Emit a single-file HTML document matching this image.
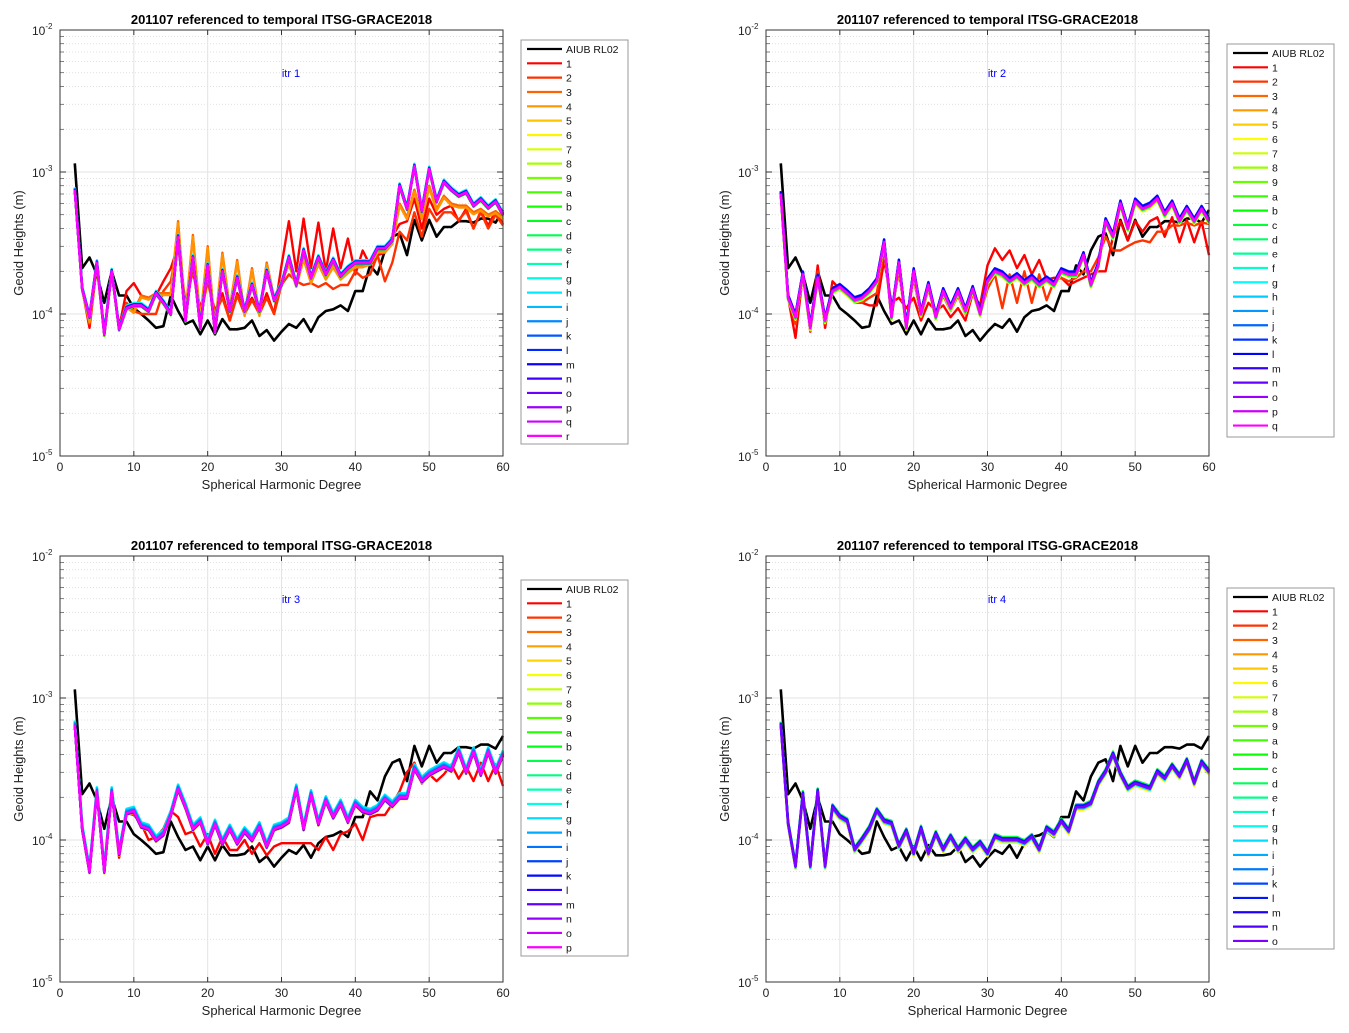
<!DOCTYPE html>
<html><head><meta charset="utf-8">
<style>
html,body{margin:0;padding:0;background:#fff;}
svg{display:block;font-family:"Liberation Sans",Arial,sans-serif;}
</style></head>
<body>
<svg id="fig" width="1349" height="1033" viewBox="0 0 1349 1033" xmlns="http://www.w3.org/2000/svg"></svg>
<script>
const degrees = [];
for (let d = 2; d <= 60; d++) degrees.push(d);
const xTicks = [0,10,20,30,40,50,60];
const yTickExps = [-2,-3,-4,-5];

const aiub = [1.15e-3,2.1e-4,2.5e-4,1.9e-4,1.2e-4,2.0e-4,1.35e-4,1.35e-4,1.1e-4,1.0e-4,9e-5,8e-5,8.2e-5,1.35e-4,1.05e-4,8.5e-5,9e-5,7.2e-5,9e-5,7.2e-5,9.2e-5,7.8e-5,7.8e-5,8e-5,9e-5,7e-5,7.7e-5,6.5e-5,7.5e-5,8.5e-5,8e-5,9.2e-5,7.5e-5,9.5e-5,1.05e-4,1.08e-4,1.15e-4,1.05e-4,1.45e-4,1.45e-4,2.2e-4,1.9e-4,2.8e-4,3.5e-4,3.7e-4,2.6e-4,4.6e-4,3.3e-4,4.6e-4,3.5e-4,4.1e-4,4.1e-4,4.5e-4,4.5e-4,4.4e-4,4.7e-4,4.7e-4,4.4e-4,5.4e-4];

const p1Cluster = [7.5e-4,1.5e-4,9.5e-5,2.3e-4,7.2e-5,2.0e-4,7.8e-5,1.1e-4,1.15e-4,1.15e-4,1.05e-4,1.4e-4,1.2e-4,1.0e-4,3.5e-4,9e-5,2.5e-4,8e-5,2.2e-4,7.5e-5,2.0e-4,1.05e-4,1.8e-4,1.05e-4,1.6e-4,1.05e-4,2.0e-4,1.25e-4,1.6e-4,2.5e-4,1.6e-4,2.8e-4,1.8e-4,2.5e-4,1.9e-4,2.4e-4,1.85e-4,2.1e-4,2.3e-4,2.3e-4,2.3e-4,2.9e-4,2.9e-4,3.3e-4,8e-4,5.5e-4,1.1e-3,5.3e-4,1.05e-3,6.2e-4,8.5e-4,7.5e-4,6.8e-4,7.2e-4,5.8e-4,6.4e-4,5.6e-4,6.2e-4,5e-4];
const p1Red1 = [7.5e-4,1.5e-4,8e-5,2.2e-4,7.2e-5,2e-4,8e-5,1.45e-4,1.65e-4,1.35e-4,1.3e-4,1.35e-4,1.7e-4,2.1e-4,3e-4,1.2e-4,2e-4,1.1e-4,1.7e-4,1.05e-4,1.4e-4,9e-5,1.4e-4,1.1e-4,1.3e-4,1e-4,1.4e-4,1e-4,2.2e-4,4.5e-4,2e-4,4.7e-4,2.1e-4,4.4e-4,2e-4,4e-4,2.1e-4,3.4e-4,1.9e-4,2.8e-4,2.2e-4,2.6e-4,2.7e-4,3.5e-4,4.3e-4,4.5e-4,6.5e-4,4e-4,6.5e-4,5e-4,5.5e-4,5.8e-4,4.5e-4,5.5e-4,4e-4,5.3e-4,4.2e-4,5.3e-4,4.3e-4];
const p1Red2 = [7.5e-4,1.5e-4,8.5e-5,2.2e-4,7.2e-5,2e-4,8e-5,1.2e-4,1.05e-4,1e-4,1e-4,1e-4,1.45e-4,1.7e-4,3.2e-4,1.1e-4,2.1e-4,9.5e-5,1.7e-4,1e-4,1.3e-4,9e-5,1.35e-4,1e-4,1.25e-4,1e-4,1.3e-4,1e-4,1.6e-4,1.9e-4,1.7e-4,1.6e-4,1.65e-4,1.55e-4,1.65e-4,1.5e-4,1.6e-4,1.6e-4,2e-4,1.8e-4,1.9e-4,2.6e-4,1.7e-4,2.3e-4,3.8e-4,3.3e-4,5.2e-4,3.5e-4,5.5e-4,4.5e-4,5.2e-4,5.2e-4,4.6e-4,5.3e-4,4e-4,5.2e-4,4e-4,5e-4,4.2e-4];
const p1Orange = [7.5e-4,1.5e-4,9e-5,2.3e-4,7.2e-5,2e-4,8e-5,1.15e-4,1.05e-4,1.35e-4,1.3e-4,1.4e-4,1.4e-4,1.4e-4,4.5e-4,1e-4,3.6e-4,9e-5,3e-4,8e-5,2.7e-4,1.1e-4,2.4e-4,1e-4,2.1e-4,1e-4,2.3e-4,1.3e-4,1.7e-4,2.3e-4,1.6e-4,2.5e-4,1.7e-4,2.3e-4,1.8e-4,2.2e-4,1.8e-4,2e-4,2.2e-4,2.2e-4,2.3e-4,2.8e-4,2.8e-4,3.2e-4,6e-4,4.8e-4,7.5e-4,4.8e-4,8e-4,5.5e-4,6.8e-4,6e-4,5.8e-4,5.8e-4,5.2e-4,5.5e-4,5e-4,5.3e-4,4.8e-4];

const p2Cluster = [7e-4,1.3e-4,9.5e-5,1.9e-4,8e-5,1.8e-4,9e-5,1.45e-4,1.55e-4,1.4e-4,1.25e-4,1.3e-4,1.45e-4,1.7e-4,3.2e-4,9.5e-5,2.3e-4,8e-5,2e-4,1e-4,1.6e-4,9.5e-5,1.45e-4,1.1e-4,1.45e-4,1.05e-4,1.5e-4,1e-4,1.7e-4,2e-4,1.9e-4,1.7e-4,1.85e-4,1.65e-4,1.8e-4,1.6e-4,1.75e-4,1.6e-4,2e-4,1.9e-4,1.9e-4,2.6e-4,1.6e-4,2.2e-4,4.5e-4,3.5e-4,6e-4,4e-4,6.2e-4,5.5e-4,5.8e-4,6.5e-4,5e-4,6e-4,4.5e-4,5.5e-4,4.5e-4,5.5e-4,4.5e-4];
const p2Red1 = [7e-4,1.3e-4,6.8e-5,1.9e-4,7.5e-5,2.2e-4,8e-5,1.7e-4,1.5e-4,1.45e-4,1.2e-4,1.2e-4,1.15e-4,1.15e-4,2.4e-4,1.2e-4,1.3e-4,1.1e-4,1.3e-4,9e-5,1.2e-4,1.05e-4,1.15e-4,9.5e-5,1.1e-4,9e-5,1.4e-4,1.15e-4,2.2e-4,2.9e-4,2.4e-4,2.8e-4,2.1e-4,2.6e-4,1.9e-4,2.4e-4,1.75e-4,1.8e-4,1.8e-4,1.6e-4,1.7e-4,1.8e-4,1.9e-4,2e-4,2e-4,3.5e-4,4.5e-4,3.3e-4,4.5e-4,3.8e-4,4.5e-4,4.8e-4,3.5e-4,4.8e-4,3.2e-4,4.6e-4,3.2e-4,4.5e-4,2.6e-4];
const p2Red2 = [7e-4,1.3e-4,8.5e-5,1.9e-4,8e-5,2e-4,8.5e-5,1.55e-4,1.5e-4,1.4e-4,1.2e-4,1.2e-4,1.3e-4,1.4e-4,2.8e-4,1e-4,2e-4,8.5e-5,1.8e-4,9.5e-5,1.5e-4,9.5e-5,1.35e-4,1.05e-4,1.35e-4,1e-4,1.4e-4,1e-4,1.5e-4,1.9e-4,1.1e-4,1.9e-4,1.2e-4,2e-4,1.2e-4,1.9e-4,1.25e-4,1.7e-4,1.8e-4,1.7e-4,1.8e-4,2e-4,2e-4,2.5e-4,3.5e-4,2.8e-4,2.8e-4,3e-4,3.2e-4,3.3e-4,3.2e-4,3.8e-4,3.8e-4,4.2e-4,4.2e-4,4.4e-4,4.2e-4,4.4e-4,4.3e-4];

const p3Cluster = [6.5e-4,1.2e-4,6e-5,2.2e-4,6e-5,2.2e-4,8e-5,1.55e-4,1.6e-4,1.25e-4,1.2e-4,1e-4,1.1e-4,1.5e-4,2.3e-4,1.7e-4,1.2e-4,1.35e-4,9.5e-5,1.3e-4,9.5e-5,1.2e-4,9.5e-5,1.15e-4,1e-4,1.25e-4,9e-5,1.2e-4,1.25e-4,1.35e-4,2.3e-4,1.2e-4,2.1e-4,1.3e-4,1.9e-4,1.45e-4,1.8e-4,1.35e-4,1.8e-4,1.6e-4,1.55e-4,1.65e-4,1.95e-4,1.75e-4,2e-4,2e-4,3.2e-4,2.6e-4,2.9e-4,3.1e-4,3.3e-4,3.1e-4,4.2e-4,3e-4,4.2e-4,2.9e-4,4.2e-4,3e-4,4e-4,2.8e-4];
const p3Red1 = [6.5e-4,1.2e-4,6.5e-5,2.2e-4,6.5e-5,2.2e-4,7.5e-5,1.55e-4,1.5e-4,1.3e-4,1e-4,1.05e-4,1.2e-4,1.6e-4,1.45e-4,1.1e-4,1.15e-4,9e-5,1.1e-4,8e-5,1.05e-4,8.5e-5,8.5e-5,1e-4,8e-5,9.5e-5,7.8e-5,9e-5,9.5e-5,9.5e-5,9.5e-5,9.5e-5,9.5e-5,8.5e-5,1.05e-4,8.5e-5,1.1e-4,1.15e-4,1.3e-4,1e-4,1.45e-4,1.5e-4,1.5e-4,1.8e-4,2.2e-4,3e-4,3.5e-4,2.5e-4,2.9e-4,2.6e-4,2.9e-4,3.4e-4,2.7e-4,3.3e-4,2.6e-4,3.5e-4,2.6e-4,3.4e-4,2.4e-4];

const p4Cluster = [6.5e-4,1.3e-4,6.5e-5,2.1e-4,6.5e-5,2.2e-4,6.5e-5,1.7e-4,1.45e-4,1.35e-4,8.5e-5,1e-4,1.2e-4,1.6e-4,1.35e-4,1.3e-4,9e-5,1.15e-4,8e-5,1.2e-4,8e-5,1.1e-4,8.5e-5,1.05e-4,8.5e-5,1e-4,8.5e-5,9.5e-5,8e-5,1.05e-4,1e-4,1e-4,1e-4,9.5e-5,1.05e-4,8.5e-5,1.2e-4,1.1e-4,1.35e-4,1.15e-4,1.7e-4,1.7e-4,1.8e-4,2.5e-4,3e-4,4e-4,2.9e-4,2.3e-4,2.5e-4,2.4e-4,2.3e-4,3e-4,2.7e-4,3.3e-4,2.8e-4,3.6e-4,2.5e-4,3.5e-4,3e-4];

// legend labels
const labels1 = ["1","2","3","4","5","6","7","8","9","a","b","c","d","e","f","g","h","i","j","k","l","m","n","o","p","q","r"];
// per-entry base series index and multiplicative variation (read as small spread within cluster)
const p1Base = [1,2,3,3,0,0,0,0,0,0,0,0,0,0,0,0,0,0,0,0,0,0,0,0,0,0,0];
const p1Spread = [1,1,1,0.97,1.02,0.98,1.01,0.99,1.03,1.02,1,0.98,1.01,1.03,1.02,1.04,1.03,1.02,1.01,1,1.02,1.01,1,0.99,1,1,1];
const p2Base = [1,2,0,0,0,0,0,0,0,0,0,0,0,0,0,0,0,0,0,0,0,0,0,0,0,0];
const p2Spread = [1,1,1.02,0.98,0.97,0.96,0.97,0.98,1.04,1.03,1,0.98,1.02,1.03,1.04,1.02,1.01,1,1.03,1.05,1.04,1.02,1.01,1,1,1];
const p3Base = [1,0,0,0,0,0,0,0,0,0,0,0,0,0,0,0,0,0,0,0,0,0,0,0,0];
const p3Spread = [1,1.02,0.98,1,0.97,1.01,1.04,1.05,1.06,1.04,1.02,1,0.99,1.03,1.07,1.06,1.04,1.02,1,0.99,0.98,1,0.99,1,1];
const p4Base = [0,0,0,0,0,0,0,0,0,0,0,0,0,0,0,0,0,0,0,0,0,0,0,0];
const p4Spread = [0.98,1,0.97,1.03,0.99,0.96,1.02,1.04,1.01,1.03,1.05,1.02,1,1.04,1.02,1.03,0.98,1,1.01,1.02,1.03,1,1.01,1];

const panels = [
  {x0:60,y0:30,itr:"itr 1",n:27,series:[p1Cluster,p1Red1,p1Red2,p1Orange],base:p1Base,spread:p1Spread,leg:[521,40,107,404],hueMax:300},
  {x0:766,y0:30,itr:"itr 2",n:26,series:[p2Cluster,p2Red1,p2Red2],base:p2Base,spread:p2Spread,leg:[1227,44,107,393],hueMax:300},
  {x0:60,y0:556,itr:"itr 3",n:25,series:[p3Cluster,p3Red1],base:p3Base,spread:p3Spread,leg:[521,580,107,376],hueMax:300},
  {x0:766,y0:556,itr:"itr 4",n:24,series:[p4Cluster],base:p4Base,spread:p4Spread,leg:[1227,588,107,361],hueMax:270}
];
const W = 443, H = 426;
const NS = "http://www.w3.org/2000/svg";
const svg = document.getElementById('fig');
function mk(tag, attrs, parent){const e=document.createElementNS(NS,tag);for(const k in attrs)e.setAttribute(k,attrs[k]);(parent||svg).appendChild(e);return e;}
function hsv(h){const c=1,x=c*(1-Math.abs((h/60)%2-1));let r,g,b;
 if(h<60){r=c;g=x;b=0}else if(h<120){r=x;g=c;b=0}else if(h<180){r=0;g=c;b=x}else if(h<240){r=0;g=x;b=c}else if(h<300){r=x;g=0;b=c}else{r=c;g=0;b=x}
 return `rgb(${Math.round(r*255)},${Math.round(g*255)},${Math.round(b*255)})`;}

panels.forEach((p,pi)=>{
  const g = mk('g',{});
  
  
  const xs = d => p.x0 + d/60*W;
  const ys = v => p.y0 + (-2 - Math.log10(v))/3*H;
  mk('rect',{x:p.x0,y:p.y0,width:W,height:H,fill:'#fff'},g);
  // minor grid
  for(let e=-5;e<-2;e++){for(let m=2;m<=9;m++){const y=ys(m*Math.pow(10,e));
    const l=mk('line',{x1:p.x0,x2:p.x0+W,y1:y,y2:y,stroke:'#d8d8d8','stroke-width':0.7,'stroke-dasharray':'1,2'},g);
    
    mk('line',{x1:p.x0,x2:p.x0+4,y1:y,y2:y,stroke:'#333','stroke-width':0.6},g);
    mk('line',{x1:p.x0+W-4,x2:p.x0+W,y1:y,y2:y,stroke:'#333','stroke-width':0.6},g);}}
  xTicks.forEach(t=>{const x=xs(t);
    const l=mk('line',{x1:x,x2:x,y1:p.y0,y2:p.y0+H,stroke:'#e3e3e3','stroke-width':1},g);
    
    mk('line',{x1:x,x2:x,y1:p.y0+H,y2:p.y0+H-5,stroke:'#333'},g);
    mk('line',{x1:x,x2:x,y1:p.y0,y2:p.y0+5,stroke:'#333'},g);
    const tx=mk('text',{x:x,y:p.y0+H+15,'font-size':12,'text-anchor':'middle',fill:'#222'},g);tx.textContent=t;
    });
  yTickExps.forEach(e=>{const y=ys(Math.pow(10,e));
    const l=mk('line',{x1:p.x0,x2:p.x0+W,y1:y,y2:y,stroke:'#e3e3e3','stroke-width':1},g);
    
    mk('line',{x1:p.x0,x2:p.x0+6,y1:y,y2:y,stroke:'#333'},g);
    mk('line',{x1:p.x0+W-6,x2:p.x0+W,y1:y,y2:y,stroke:'#333'},g);
    const tx=mk('text',{x:p.x0-28,y:y+5,'font-size':12,fill:'#222'},g);
    
    tx.textContent='10';const sp=mk('tspan',{dy:-6,'font-size':8},tx);sp.textContent=String(e);});
  // series
  const pl = (arr,color,w,name)=>{const pts=arr.map((v,i)=>xs(degrees[i]).toFixed(1)+','+ys(v).toFixed(1)).join(' ');
    const l=mk('polyline',{points:pts,fill:'none',stroke:color,'stroke-width':w,'stroke-linejoin':'round'},g);
    };
  pl(aiub,'#000',2.6,'aiub-rl02-line');
  for(let i=0;i<p.n;i++){const base=p.series[p.base[i]];const f=p.spread[i];
    pl(base.map(v=>v*f),hsv(p.hueMax*i/(p.n-1)),2.4,'series-'+labels1[i]);}
  // frame
  mk('rect',{x:p.x0,y:p.y0,width:W,height:H,fill:'none',stroke:'#333','stroke-width':1},g);
  const tt=mk('text',{x:p.x0+W/2,y:p.y0-6,'font-size':13,'font-weight':'bold','text-anchor':'middle',fill:'#000'},g);
  tt.textContent='201107 referenced to temporal ITSG-GRACE2018';
  const it=mk('text',{x:p.x0+231,y:p.y0+47,'font-size':11,'text-anchor':'middle',fill:'#0000ff'},g);
  it.textContent=p.itr;
  const xl=mk('text',{x:p.x0+W/2,y:p.y0+H+33,'font-size':13,'text-anchor':'middle',fill:'#222'},g);
  xl.textContent='Spherical Harmonic Degree';
  const yl=mk('text',{x:0,y:0,'font-size':13,'text-anchor':'middle',fill:'#222',transform:`translate(${p.x0-37},${p.y0+H/2}) rotate(-90)`},g);
  yl.textContent='Geoid Heights (m)';
  // legend
  const [lx,ly,lw,lh]=p.leg;
  const lg=mk('g',{},g);
  mk('rect',{x:lx,y:ly,width:lw,height:lh,fill:'#fff',stroke:'#999','stroke-width':1},lg);
  const step=14.33;
  const entry=(k,color,label)=>{const y=ly+9+k*step;
    const e=mk('g',{},lg);
    mk('line',{x1:lx+6,x2:lx+41,y1:y,y2:y,stroke:color,'stroke-width':2.2},e);
    const t=mk('text',{x:lx+45,y:y+4,'font-size':10.5,fill:'#111'},e);t.textContent=label;};
  entry(0,'#000','AIUB RL02');
  for(let i=0;i<p.n;i++)entry(i+1,hsv(p.hueMax*i/(p.n-1)),labels1[i]);
  svg.appendChild(g);
});
</script>
</body></html>
